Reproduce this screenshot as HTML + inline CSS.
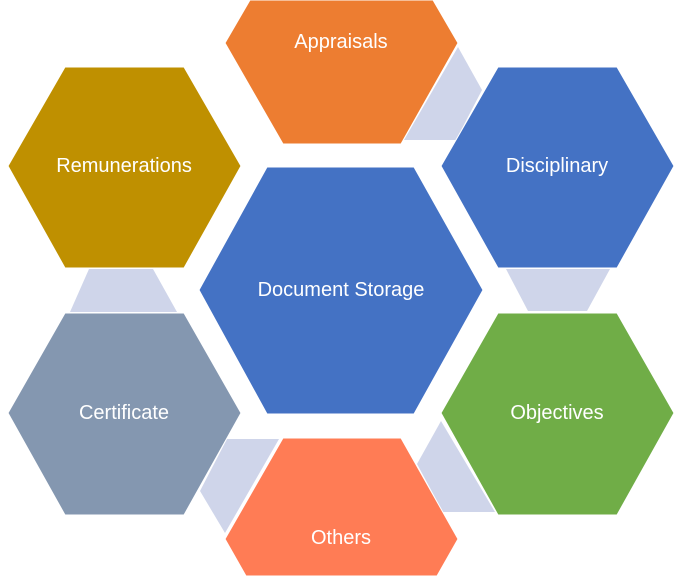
<!DOCTYPE html>
<html><head><meta charset="utf-8"><style>
html,body{margin:0;padding:0;background:#fff;width:684px;height:576px;overflow:hidden;}
svg{display:block;overflow:hidden;}
text{font-family:"Liberation Sans",sans-serif;font-size:20px;fill:#fff;text-anchor:middle;dominant-baseline:central;}
</style></head><body>
<svg width="684" height="576" viewBox="0 0 684 576" xmlns="http://www.w3.org/2000/svg">
<g fill="#cfd5ea">
<polygon points="458,47 482,90 456,140 404,140"/>
<polygon points="89,269 153,269 177,312 70,312"/>
<polygon points="506,269 610,269 587,311 528,311"/>
<polygon points="227,439 279,439 225,533 200,491"/>
<polygon points="441,421 495,512 443,512 417,464"/>
</g>
<g stroke="#fff" stroke-width="1">
<polygon fill="#ed7d31" points="225,43 250,0 433,0 458,43 401,144 283,144"/>
<polygon fill="#bf9000" points="8,166 65,67 184,67 241,166 184,268 65,268"/>
<polygon fill="#4472c4" points="441,166 498,67 617,67 674,166 617,268 498,268"/>
<polygon fill="#4472c4" points="199,290 267,167 414,167 483,290 414,414 267,414"/>
<polygon fill="#8497b0" points="8,413 65,313 184,313 241,413 184,515 65,515"/>
<polygon fill="#70ad47" points="441,413 498,313 617,313 674,413 617,515 498,515"/>
<polygon fill="#ff7c55" points="225,539 283,438 401,438 458,539 437,576 246,576"/>
</g>
<text x="341" y="42">Appraisals</text>
<text x="124" y="166">Remunerations</text>
<text x="557" y="166">Disciplinary</text>
<text x="341" y="290">Document Storage</text>
<text x="124" y="413">Certificate</text>
<text x="557" y="413">Objectives</text>
<text x="341" y="538">Others</text>
</svg>
</body></html>
